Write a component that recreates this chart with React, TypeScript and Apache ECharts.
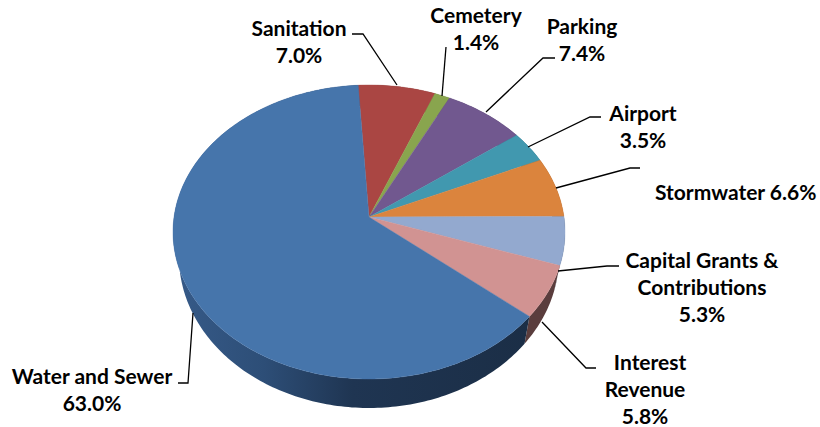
import React, { useEffect, useRef } from "react";
import * as echarts from "echarts";

const names = ["Sanitation", "Cemetery", "Parking", "Airport", "Stormwater", "Capital Grants &\nContributions", "  Interest\nRevenue", "Water and Sewer"];
const values = [7.0, 1.4, 7.4, 3.5, 6.6, 5.3, 5.8, 63.0];
const topColors = ["#aa4643", "#89a54e", "#71588f", "#4198af", "#db843d", "#93a9cf", "#d19392", "#4675ab"];
const wallColors = ["#6a2c2a", "#55673a", "#463759", "#285f6d", "#885226", "#3f4d63", "#5a3d3d", "#1d3048"];

const START = -3.5;
const K = 0.903;
const APEX = [369, 217];
const TOP = { cx: 369, cy: 232, rx: 196, ry: 147 };
const BOTTOM = { cx: 369, cy: 257, rx: 190, ry: 151 };
const FONT = "Lato, 'Open Sans', sans-serif";

const rad = (d: number) => (d * Math.PI) / 180;

function warp(thetaDeg: number) {
  let th = thetaDeg;
  let add = 0;
  if (th > 180) { th -= 360; add = 360; }
  return (2 * Math.atan(K * Math.tan(rad(th) / 2)) * 180) / Math.PI + add;
}

function rim(e: typeof TOP, t: number) {
  return [e.cx + e.rx * Math.sin(rad(t)), e.cy - e.ry * Math.cos(rad(t))];
}

function sliceRange(i: number) {
  const total = values.reduce((a, b) => a + b, 0);
  const before = values.slice(0, i).reduce((a, b) => a + b, 0);
  const a = START + (before / total) * 360;
  const b = START + ((before + values[i]) / total) * 360;
  return [a, b];
}

function arcPoints(e: typeof TOP, a: number, b: number) {
  const pts: number[][] = [];
  const n = Math.max(2, Math.ceil(b - a));
  for (let j = 0; j <= n; j++) pts.push(rim(e, warp(a + ((b - a) * j) / n)));
  return pts;
}

const waterWall = {
  type: "linear", x: 175, y: 0, x2: 530, y2: 0, global: true,
  colorStops: [
    { offset: 0, color: "#365a88" },
    { offset: 0.25, color: "#2d4e77" },
    { offset: 0.5, color: "#1f3552" },
    { offset: 1, color: "#1b2e46" },
  ],
};

const labelLayout = [
  { x: 299, y: 14, align: "center" },
  { x: 476, y: 1, align: "center" },
  { x: 582, y: 12, align: "center" },
  { x: 643, y: 99, align: "center" },
  { x: 655, y: 178, align: "left", inline: true },
  { x: 702, y: 246, align: "center" },
  { x: 645, y: 348, align: "center" },
  { x: 92, y: 362, align: "center" },
];

const leaders = [
  [[352, 34], [363, 34], [397, 85]],
  [[446, 47], [442, 96]],
  [[555, 58], [543, 58], [486, 112]],
  [[601, 117], [590, 117], [528, 147]],
  [[640, 168], [630, 168], [556, 188]],
  [[619, 266], [607, 266], [558, 271]],
  [[596, 368], [586, 368], [542, 322]],
  [[178, 383], [188, 383], [193, 313]],
];

export default function App() {
  const ref = useRef<HTMLDivElement>(null);
  useEffect(() => {
    document.body.style.margin = "0";
    const chart = echarts.init(ref.current!, null, { renderer: "svg" });
    const graphics: any[] = [];
    leaders.forEach((pts) => {
      graphics.push({
        type: "polyline",
        shape: { points: pts },
        style: { stroke: "#000", lineWidth: 1.3, fill: "none" },
        silent: true,
        z: 5,
      });
    });
    names.forEach((n, i) => {
      const l = labelLayout[i];
      const pct = values[i].toFixed(1) + "%";
      graphics.push({
        type: "text",
        x: l.x,
        y: l.y,
        silent: true,
        z: 6,
        style: {
          text: l.inline ? `${n} ${pct}` : `${n}\n${pct}`,
          fontFamily: FONT,
          fontWeight: "bold",
          fontSize: 21,
          lineHeight: 27,
          fill: "#000",
          align: l.align,
          verticalAlign: "top",
        },
      });
    });
    chart.setOption({
      animation: false,
      tooltip: { show: false },
      graphic: graphics,
      series: [
        {
          type: "custom",
          coordinateSystem: "none",
          silent: true,
          z: 1,
          data: values.map((v) => [v]),
          renderItem: (params: any) => {
            const i = params.dataIndex;
            const [a, b] = sliceRange(i);
            const pts = arcPoints(TOP, a, b).concat(arcPoints(BOTTOM, a, b).reverse());
            return {
              type: "polygon",
              shape: { points: pts },
              style: { fill: i === 7 ? waterWall : wallColors[i], stroke: "none" },
            };
          },
        },
        {
          type: "custom",
          coordinateSystem: "none",
          silent: true,
          z: 2,
          data: values.map((v) => [v]),
          renderItem: (params: any) => {
            const i = params.dataIndex;
            const [a, b] = sliceRange(i);
            const pts = [APEX, ...arcPoints(TOP, a, b)];
            return {
              type: "polygon",
              shape: { points: pts },
              style: { fill: topColors[i], stroke: topColors[i], lineWidth: 0.4 },
            };
          },
        },
      ],
    });
    return () => chart.dispose();
  }, []);
  return <div ref={ref} style={{ position: "absolute", left: 0, top: 0, width: 820, height: 427, background: "#fff" }} />;
}
